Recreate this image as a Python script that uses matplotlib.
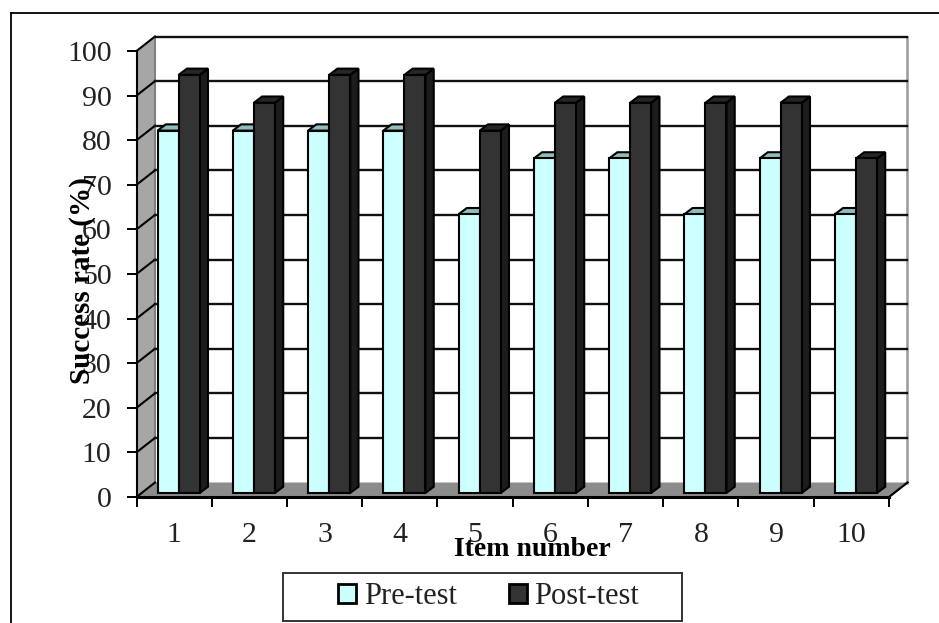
import matplotlib
matplotlib.use('Agg')
import matplotlib.pyplot as plt
from matplotlib.patches import Patch, Polygon, Rectangle

items = ['1', '2', '3', '4', '5', '6', '7', '8', '9', '10']
pre_test = [81.25, 81.25, 81.25, 81.25, 62.5, 75, 75, 62.5, 75, 62.5]
post_test = [93.75, 87.5, 93.75, 93.75, 81.25, 87.5, 87.5, 87.5, 87.5, 75]
y_ticks = [0, 10, 20, 30, 40, 50, 60, 70, 80, 90, 100]

W, H = 939, 623
LEFT, RIGHT, BOTTOM, TOP = 136.5, 889.0, 497.0, 51.0

# 3D look: depth of the box and of the bars, in data units
DEPTH_X = 18.5 / (RIGHT - LEFT) * 10
DEPTH_Y = 14.5 / (BOTTOM - TOP) * 100
BAR_OFF_X = 0.06
BAR_OFF_Y = 0.9
BAR_DEPTH_X = 0.11
BAR_DEPTH_Y = 1.4
BAR_W = 0.28


def face(ax, pts, color, edge='black', lw=1.5, z=3):
    ax.add_patch(Polygon(pts, closed=True, facecolor=color, edgecolor=edge,
                         linewidth=lw, zorder=z, clip_on=False, joinstyle='miter'))


def draw_bar(ax, x, value, front, top, side, z):
    x0 = x + BAR_OFF_X
    x1 = x0 + BAR_W
    y0 = BAR_OFF_Y
    y1 = y0 + value
    dx, dy = BAR_DEPTH_X, BAR_DEPTH_Y
    face(ax, [(x1, y0), (x1 + dx, y0 + dy), (x1 + dx, y1 + dy), (x1, y1)], side, z=z)
    face(ax, [(x0, y1), (x1, y1), (x1 + dx, y1 + dy), (x0 + dx, y1 + dy)], top, z=z)
    ax.add_patch(Rectangle((x0, y0), BAR_W, value, facecolor=front, edgecolor='black',
                           linewidth=1.5, zorder=z, clip_on=False))


plt.rcParams['font.family'] = ['Liberation Serif']
fig = plt.figure(figsize=(W / 100, H / 100), dpi=100)

# outer frame, only left and top show in the picture
fig.add_artist(plt.Line2D([11 / W, 11 / W], [0, 1 - 13 / H], color='black', lw=1.3))
fig.add_artist(plt.Line2D([11 / W, 1], [1 - 13 / H, 1 - 13 / H], color='black', lw=1.3))

ax = fig.add_axes([LEFT / W, 1 - BOTTOM / H, (RIGHT - LEFT) / W, (BOTTOM - TOP) / H])
ax.set_xlim(0, 10)
ax.set_ylim(0, 100)
ax.patch.set_visible(False)
for s in ['top', 'right']:
    ax.spines[s].set_visible(False)
ax.spines['left'].set_linewidth(1.5)
ax.spines['left'].set_zorder(6)
ax.spines['bottom'].set_linewidth(2.2)
ax.spines['bottom'].set_zorder(6)

# side wall and floor
face(ax, [(0, 0), (0, 100), (DEPTH_X, 100 + DEPTH_Y), (DEPTH_X, DEPTH_Y)], '#a6a6a6', edge='none', lw=0, z=1)
face(ax, [(0, 0), (10, 0), (10 + DEPTH_X, DEPTH_Y), (DEPTH_X, DEPTH_Y)], '#8c8c8c', edge='none', lw=0, z=1)
ax.plot([10, 10 + DEPTH_X], [0, DEPTH_Y], color='black', lw=1.6, zorder=2, clip_on=False)
ax.plot([10 + DEPTH_X, 10 + DEPTH_X], [DEPTH_Y, 100 + DEPTH_Y], color='#9a9a9a', lw=1.8, zorder=1.5, clip_on=False)
ax.plot([DEPTH_X, DEPTH_X], [DEPTH_Y, 100 + DEPTH_Y], color='#808080', lw=1.5, zorder=1.5, clip_on=False)

# gridlines on the back wall, running down the side wall to the ticks
for v in y_ticks:
    ax.plot([0, DEPTH_X], [v, v + DEPTH_Y], color='black', lw=1.5, zorder=2, clip_on=False)
    if v > 0:
        ax.plot([DEPTH_X, 10 + DEPTH_X], [v + DEPTH_Y, v + DEPTH_Y], color='#111111', lw=1.7,
                zorder=2, clip_on=False)

for i in range(len(items)):
    x = i + 0.5 - BAR_W
    draw_bar(ax, x, pre_test[i], '#ccffff', '#8fbcbc', '#8fbcbc', 3 + i * 0.1)
    draw_bar(ax, x + BAR_W, post_test[i], '#333333', '#262626', '#1c1c1c', 3.05 + i * 0.1)

ax.set_yticks(y_ticks)
ax.set_xticks(range(len(items) + 1))
ax.set_xticklabels([])
ax.set_xticks([i + 0.5 for i in range(len(items))], items, minor=True)
ax.tick_params(axis='x', which='major', length=7, width=1.4, direction='out')
ax.tick_params(axis='x', which='minor', length=0, pad=18, labelsize=21.5, labelcolor='#222222')
ax.tick_params(axis='y', length=7, width=1.4, direction='out', pad=11, labelsize=21.5, labelcolor='#222222')

fig.text(532 / W, 1 - 549 / H, 'Item number', ha='center', va='center', fontsize=20, fontweight='bold')
fig.text(82 / W, 1 - 281 / H, 'Success rate (%)', ha='center', va='center', rotation=90,
         fontsize=21, fontweight='bold', zorder=5)

# legend box is wider on the left than the entries need, so it is drawn apart
fig.add_artist(Rectangle((283 / W, 1 - 621 / H), 399 / W, 48 / H, transform=fig.transFigure,
                         facecolor='white', edgecolor='#333333', linewidth=1.4))
handles = [Patch(facecolor='#ccffff', edgecolor='black', linewidth=2, label='Pre-test'),
           Patch(facecolor='#333333', edgecolor='black', linewidth=2, label='Post-test')]
fig.legend(handles=handles, loc='center', bbox_to_anchor=(488.5 / W, 1 - 597 / H), ncol=2,
           fontsize=22, frameon=False, handlelength=0.6, handleheight=0.6, handletextpad=0.25,
           columnspacing=1.7, borderpad=0, borderaxespad=0, labelcolor='#222222')

fig.savefig('out.png', dpi=100)
